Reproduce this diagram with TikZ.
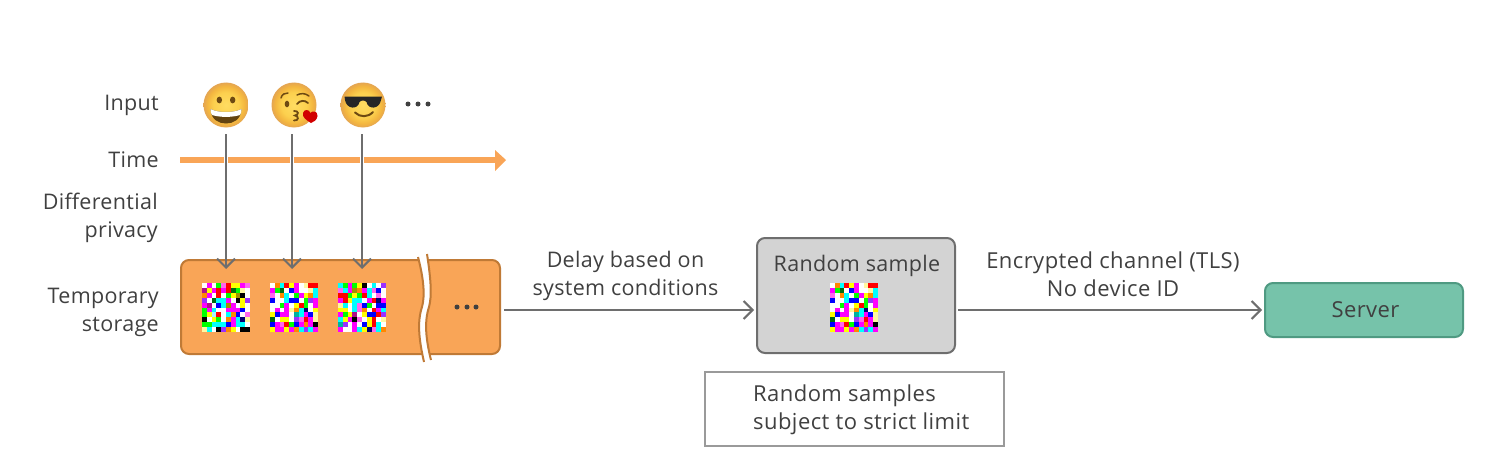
\documentclass[tikz,border=0pt]{standalone}
\usepackage{fontspec}
\setmainfont[LetterSpace=1.5]{Open Sans}
\newfontfamily\widefont[LetterSpace=2]{Open Sans}
\usetikzlibrary{arrows.meta,calc}
\definecolor{txt}{HTML}{404040}
\definecolor{conn}{HTML}{6E6E6E}
\definecolor{orangefill}{HTML}{F9A557}
\definecolor{orangeedge}{HTML}{C07A36}
\definecolor{greyfill}{HTML}{D3D3D3}
\definecolor{serverfill}{HTML}{76C3AA}
\definecolor{serveredge}{HTML}{4F9A82}
\definecolor{noteedge}{HTML}{9A9A9A}
\definecolor{browneye}{HTML}{6E4A12}
\definecolor{emA}{HTML}{FFDC62}
\definecolor{emB}{HTML}{FCD04E}
\definecolor{emC}{HTML}{F3B53F}
\definecolor{emD}{HTML}{E4A552}
% mosaic palette
\definecolor{cW}{HTML}{FFFFFF}\definecolor{cM}{HTML}{FF00FF}\definecolor{cP}{HTML}{FF66EE}
\definecolor{cY}{HTML}{FFFF00}\definecolor{cR}{HTML}{FF0000}\definecolor{cG}{HTML}{00FF00}
\definecolor{cB}{HTML}{0000FF}\definecolor{cC}{HTML}{00FFFF}\definecolor{cK}{HTML}{000000}
\definecolor{cO}{HTML}{FF8800}\definecolor{cD}{HTML}{B0108A}\definecolor{cE}{HTML}{006A10}
\definecolor{cL}{HTML}{FFF8A0}\definecolor{cV}{HTML}{9A30FF}\definecolor{cA}{HTML}{A09000}
\definecolor{cN}{HTML}{000070}\definecolor{cT}{HTML}{00B0A0}\definecolor{cI}{HTML}{AAF0FF}
\pgfdeclareradialshading{emojiball}{\pgfpoint{0bp}{0bp}}{%
  color(0bp)=(emA);
  color(14bp)=(emB);
  color(21bp)=(emC);
  color(25bp)=(emD);
  color(50bp)=(emD)}
\newcount\mosx \newcount\mosy
\def\mosrow#1{\ifx#1.\let\mosnext\relax\else
  \fill[c#1] (\the\mosx*4.8,\the\mosy*4.9) rectangle ++(4.9,5.0);
  \global\advance\mosx by 1 \let\mosnext\mosrow\fi\mosnext}
\def\mosline#1{\global\mosx=0 \mosrow#1.\global\advance\mosy by 1 }
\newcommand{\mosaicone}{\global\mosy=0
 \mosline{WMWGPRYYMP}\mosline{DYMRMREGLW}\mosline{OMWRWGYAKW}\mosline{VWECCMWKYV}
 \mosline{MDWBCAMWYW}\mosline{GMCWWMMMBW}\mosline{GYIRWCOBWP}\mosline{KWYGWOMCNL}
 \mosline{GGCCCBMCCW}\mosline{LCWKVOYWKK}}
\newcommand{\mosaictwo}{\global\mosy=0
 \mosline{WOCRYMWLRR}\mosline{MGEWBMWWLC}\mosline{PWOCWGMYOC}\mosline{BWWCBBWGVM}
 \mosline{WWGMWYRGWM}\mosline{WMWMLOCNWY}\mosline{YBMMWTCMBL}\mosline{EWYYWVPRML}
 \mosline{BMPRGBMOMK}\mosline{YMMYMOCVCM}}
\newcommand{\mosaicthree}{\global\mosy=0
 \mosline{CGMGYKWCWV}\mosline{PCMAOMCPBW}\mosline{RRGYGRCWPW}\mosline{MRYCCWMRNM}
 \mosline{LCWCPBGWBB}\mosline{YYWCPOWRMC}\mosline{MGYDWYBBRV}\mosline{CYMKPWYRWL}
 \mosline{TVWMWBYRCW}\mosline{MWWMCYNPCO}}
\tikzset{
 lbl/.style={text=txt,font=\fontsize{21.5}{28}\selectfont,inner sep=0pt,align=right,anchor=east},
 ctr/.style={text=txt,font=\fontsize{21.5}{28}\selectfont,inner sep=0pt,align=center},
 wide/.style={font=\widefont\fontsize{22}{28}\selectfont},
 conn/.style={draw=conn,line width=2pt,-{Straight Barb[length=9pt,width=18pt,line width=2pt]}},
 storebox/.style={draw=orangeedge,fill=orangefill,line width=2pt,rounded corners=8pt,minimum width=319pt,minimum height=94pt,inner sep=0pt},
 samplebox/.style={draw=conn,fill=greyfill,line width=2pt,rounded corners=8pt,minimum width=198pt,minimum height=115pt,inner sep=0pt},
 serverbox/.style={draw=serveredge,fill=serverfill,line width=2pt,rounded corners=8pt,minimum width=198pt,minimum height=54pt,inner sep=0pt,text=txt,font=\widefont\fontsize{22}{28}\selectfont},
 notebox/.style={draw=noteedge,fill=white,line width=1.5pt,minimum width=299pt,minimum height=74pt,inner sep=0pt},
 emoji/.style={circle,minimum size=45pt,inner sep=0pt,shading=emojiball},
 dot/.style={fill=txt,circle,minimum size=5pt,inner sep=0pt},
}
\begin{document}
\begin{tikzpicture}[x=1pt,y=-1pt]
\useasboundingbox (0,0) rectangle (1505,452);
% labels
\node[lbl] (linput) at (159,105) {Input};
\node[lbl] (ltime) at (159,160) {Time};
\node[lbl] (ldp) at (158,218) {Differential\\privacy};
\node[lbl] (ltemp) at (159,312) {Temporary\\storage};
% emoji
\node[emoji] (e1) at (226,105) {};
\node[emoji] (e2) at (294,105) {};
\node[emoji] (e3) at (363,105) {};
\begin{scope}[shift={(e1.center)}]
 \fill[browneye] (-6.7,-5) ellipse (2.7 and 3.4) (6.7,-5) ellipse (2.7 and 3.4);
 \fill[browneye!90!black] (-15.5,4) .. controls (-8,8) and (8,8) .. (15.5,4) .. controls (15,15) and (7,18.5) .. (0,18.5) .. controls (-7,18.5) and (-15,15) .. (-15.5,4) -- cycle;
 \fill[white] (-15.5,4) .. controls (-8,8) and (8,8) .. (15.5,4) .. controls (15.5,7) and (15,8.5) .. (14,10) .. controls (6,12.5) and (-6,12.5) .. (-14,10) .. controls (-15,8.5) and (-15.5,7) .. (-15.5,4) -- cycle;
\end{scope}
\begin{scope}[shift={(e2.center)}]
 \draw[browneye,line width=1.5pt,line cap=round] (-13,-7) .. controls (-12,-11) and (-9,-12) .. (-6,-12);
 \fill[browneye] (-7,-1) ellipse (2.3 and 3.3);
 \draw[browneye,line width=1.5pt,line cap=round] (3,-10) .. controls (7,-12) and (11,-12) .. (15,-9);
 \draw[browneye,line width=1.8pt,line cap=round] (3,-1) .. controls (6,-5) and (11,-5) .. (14,-2);
 \draw[browneye,line width=1.8pt,line cap=round] (0,6) .. controls (5,5.5) and (5,10) .. (1,10.5) .. controls (5,11) and (5,16) .. (0,15.5);
 \fill[red!82!black] (17,18) .. controls (12,15) and (8,12) .. (9,8) .. controls (10,4) and (15,4) .. (16.5,8) .. controls (18,5) and (24,6) .. (23.5,11) .. controls (23,15) and (20,17) .. (17,18) -- cycle;
\end{scope}
\begin{scope}[shift={(e3.center)}]
 \fill[black!85] (-18.5,-8.5) -- (19,-8.5) -- (18,-5) .. controls (16.5,4.5) and (5,5) .. (3.5,-3) .. controls (2,-5) and (-2,-5) .. (-3.5,-3) .. controls (-5,5) and (-16.5,4.5) .. (-18,-5) -- cycle;
 \draw[browneye,line width=2pt,line cap=round] (-8,7.5) .. controls (-3,12.5) and (5,12.5) .. (10,7);
\end{scope}
\node[dot] (d1) at (408,104) {};
\node[dot] (d2) at (418,104) {};
\node[dot] (d3) at (428,104) {};
% time axis
\coordinate (t0) at (180,160);
\coordinate (t1) at (495,160);
\coordinate (t2) at (506,160);
\draw[orangefill,line width=6pt] (t0) -- (t1);
\fill[orangefill] (495,150) -- (t2) -- (495,171) -- cycle;
% boxes
\node[storebox] (store) at (340.5,307) {};
\node[samplebox] (sample) at (856,295.5) {};
\node[serverbox] (server) at (1364,310) {\hspace{3pt}Server};
\node[notebox] (note) at (854.5,409) {};
% break in the storage box
\fill[white] (418,257) .. controls (424,280) and (425,296) .. (422,307) .. controls (417,322) and (419,340) .. (424,362) -- (431,360) .. controls (426,340) and (424,322) .. (429,307) .. controls (432,296) and (431,280) .. (427,254) -- cycle;
\draw[orangeedge,line width=2pt] (418,257) .. controls (424,280) and (425,296) .. (422,307) .. controls (417,322) and (419,340) .. (424,362);
\draw[orangeedge,line width=2pt] (427,254) .. controls (431,280) and (432,296) .. (429,307) .. controls (424,322) and (426,340) .. (431,360);
% mosaics
\node[inner sep=0pt,minimum size=48pt] (m1) at (226,307) {};
\node[inner sep=0pt,minimum size=48pt] (m2) at (294,307) {};
\node[inner sep=0pt,minimum size=48pt] (m3) at (362,307) {};
\node[inner sep=0pt,minimum size=48pt] (m4) at (854,307) {};
\begin{scope}[shift={(m1.center)},shift={(-24,-24)}]\mosaicone\end{scope}
\begin{scope}[shift={(m2.center)},shift={(-24,-24)}]\mosaictwo\end{scope}
\begin{scope}[shift={(m3.center)},shift={(-24,-24)}]\mosaicthree\end{scope}
\begin{scope}[shift={(m4.center)},shift={(-24,-24)}]\mosaictwo\end{scope}
\node[dot] (s1) at (457,307) {};
\node[dot] (s2) at (467,307) {};
\node[dot] (s3) at (476,307) {};
% vertical arrows with a white halo on the time axis
\foreach \e/\xx in {e1/226,e2/292,e3/362}{
  \coordinate (top\e) at (\xx,134);
  \coordinate (bot\e) at (\xx,269);
  \draw[white,line width=4pt] (\xx,155) -- (\xx,165);
  \draw[conn] (top\e) -- (bot\e);
}
% horizontal connectors
\draw[conn] ([xshift=3pt]store.east |- server.west) -- ([xshift=-2pt]sample.west |- server.west);
\draw[conn] ([xshift=2pt]sample.east |- server.west) -- ([xshift=-2pt]server.west);
% text
\node[ctr] (tdelay) at (625.5,276) {Delay based on\\system conditions};
\node[ctr,wide] (tenc) at (1113,274) {Encrypted channel (TLS)\\No device ID};
\node[ctr] (trand) at (857,266) {Random sample};
\node[lbl,wide,align=left,anchor=west] (tnote) at (753,410) {Random samples\\subject to strict limit};
\end{tikzpicture}
\end{document}
